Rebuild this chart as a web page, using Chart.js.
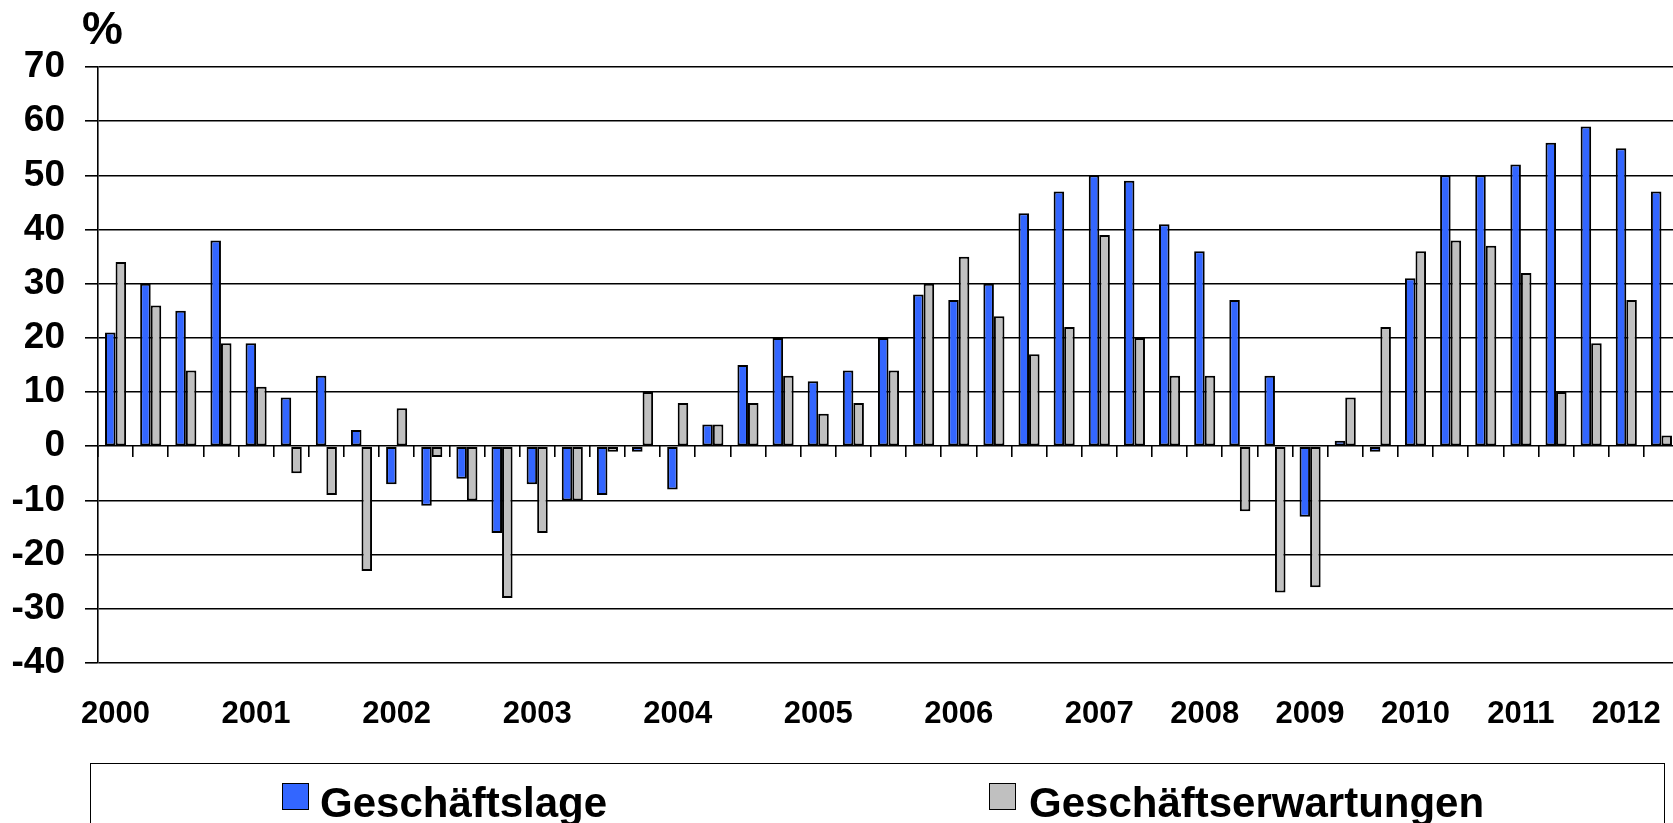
<!DOCTYPE html>
<html>
<head>
<meta charset="utf-8">
<script src="https://cdn.jsdelivr.net/npm/chart.js@4.4.1/dist/chart.umd.min.js"></script>
<style>
    html, body { margin: 0; padding: 0; background: #fff; overflow: hidden; }
    body { width: 1673px; height: 823px; position: relative; font-family: "Liberation Sans", Arial, sans-serif; }
    #wrap { position: absolute; left: 0; top: 0; width: 1679px; height: 823px; }
    #unit { position: absolute; left: 82px; top: 1px; font-size: 46px; font-weight: bold; }
    #legendBox { position: absolute; left: 90px; top: 763px; width: 1575px; height: 100px;
                 border: 1.5px solid #000; box-sizing: border-box; }
    .item { position: absolute; top: 782px; font-size: 42px; font-weight: bold; line-height: 1; white-space: nowrap; }
    .swatch { position: absolute; top: 783px; width: 25px; height: 25px; border: 1.3px solid #000; }
</style>
</head>
<body>
<div id="wrap"><canvas id="chartbar" width="1679" height="823"></canvas></div>
<div id="unit">%</div>
<div id="legendBox"></div>
<div class="swatch" id="sw1" style="left:282px;background:#3366ff"></div>
<div class="item" id="lab1" style="left:320px">Geschäftslage</div>
<div class="swatch" id="sw2" style="left:989px;background:#c0c0c0"></div>
<div class="item" id="lab2" style="left:1029px">Geschäftserwartungen</div>
<script>
// quarterly up to 2006, then three surveys a year
const yearLabels = ['2000', '', '', '', '2001', '', '', '', '2002', '', '', '', '2003', '', '', '',
    '2004', '', '', '', '2005', '', '', '', '2006', '', '', '', '2007', '', '', '2008', '', '',
    '2009', '', '', '2010', '', '', '2011', '', '', '2012', ''];

const geschaeftslage = [21, 30, 25, 38, 19, 9, 13, 3, -7, -11, -6, -16, -7, -10, -9, -1,
    -8, 4, 15, 20, 12, 14, 20, 28, 27, 30, 43, 47, 50, 49, 41, 36, 27, 13, -13,
    1, -1, 31, 50, 50, 52, 56, 59, 55, 47];

const geschaeftserwartungen = [34, 26, 14, 19, 11, -5, -9, -23, 7, -2, -10, -28, -16, -10, -1, 10,
    8, 4, 8, 13, 6, 8, 14, 30, 35, 24, 17, 22, 39, 20, 13, 13, -12, -27, -26,
    9, 22, 36, 38, 37, 32, 10, 19, 27, 2];

const yTicks = [-40, -30, -20, -10, 0, 10, 20, 30, 40, 50, 60, 70];

const fontName = '"Liberation Sans", Arial, sans-serif';

new Chart("chartbar", {
    type: 'bar',
    data: {
        labels: yearLabels,
        datasets: [{
            label: 'Geschäftslage',
            data: geschaeftslage,
            backgroundColor: '#3366ff',
            borderColor: '#000',
            borderWidth: 2,
            borderSkipped: false
        }, {
            label: 'Geschäftserwartungen',
            data: geschaeftserwartungen,
            backgroundColor: '#c0c0c0',
            borderColor: '#000',
            borderWidth: 2,
            borderSkipped: false
        }]
    },
    options: {
        responsive: false,
        animation: false,
        categoryPercentage: 0.6,
        barPercentage: 1.0,
        layout: { padding: { left: 11, top: 67, right: 0, bottom: 0 } },
        plugins: {
            legend: { display: false },
            tooltip: { enabled: false }
        },
        scales: {
            x: {
                position: 'bottom',
                grid: { display: false },
                border: { display: false },
                afterFit: (scale) => {
                    scale.height = 160;
                    scale.paddingLeft = 0;
                    scale.paddingRight = 0;
                },
                ticks: {
                    autoSkip: false,
                    maxRotation: 0,
                    color: '#000',
                    padding: 25,
                    font: { family: fontName, size: 31, weight: 'bold' }
                }
            },
            // small tick marks sitting on the zero line
            xZero: {
                type: 'category',
                position: { y: 0 },
                offset: true,
                grid: { offset: true, drawOnChartArea: false, drawTicks: true, tickLength: 11, color: '#000', lineWidth: 1.6 },
                border: { display: false },
                ticks: { display: false }
            },
            y: {
                min: -40,
                max: 70,
                afterBuildTicks: (scale) => { scale.ticks = yTicks.map(v => ({ value: v })); },
                afterFit: (scale) => { scale.width = 87; },
                ticks: {
                    color: '#000',
                    padding: 20,
                    font: { family: fontName, size: 37, weight: 'bold' }
                },
                grid: { color: '#000', lineWidth: 1.6, tickLength: 13 },
                border: { color: '#000', width: 1.6 }
            }
        }
    }
});
</script>
</body>
</html>
